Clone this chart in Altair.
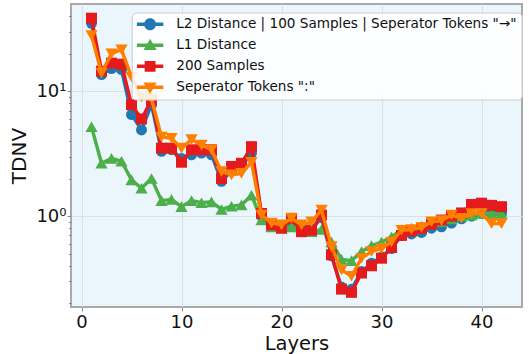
import altair as alt
import pandas as pd

layers = list(range(1, 43))

series_names = [
    'L2 Distance | 100 Samples | Seperator Tokens "→"',
    "L1 Distance",
    "200 Samples",
    'Seperator Tokens ":"',
]
colors = ["#1f77b4", "#4daf4a", "#e41a1c", "#ff7f00"]
shapes = ["circle", "triangle-up", "square", "triangle-down"]
sizes = [120, 150, 120, 150]

l2 = [35, 13.6, 15.2, 14.9, 6.5, 4.9, 7.8, 3.3, 3.4, 2.9,
      3.1, 3.2, 3.1, 1.9, 2.3, 2.5, 3.2, 1.0, 0.86, 0.82,
      0.90, 0.80, 0.78, 0.97, 0.48, 0.27, 0.26, 0.36, 0.42, 0.47,
      0.55, 0.70, 0.72, 0.74, 0.80, 0.82, 0.88, 0.95, 1.00, 1.05,
      1.05, 1.05]
l1 = [5.2, 2.65, 2.9, 2.75, 1.95, 1.67, 2.0, 1.33, 1.36, 1.19,
      1.33, 1.28, 1.30, 1.13, 1.20, 1.23, 1.47, 0.93, 0.82, 0.80,
      0.82, 0.80, 0.75, 0.78, 0.62, 0.45, 0.44, 0.52, 0.58, 0.62,
      0.68, 0.78, 0.80, 0.83, 0.86, 0.90, 0.95, 1.00, 1.02, 1.05,
      1.05, 1.05]
s200 = [38.5, 14.5, 16.8, 16.5, 7.8, 6.0, 8.5, 3.5, 3.5, 2.7,
        3.4, 3.4, 3.4, 2.0, 2.5, 2.65, 3.6, 1.05, 0.85, 0.80,
        0.96, 0.75, 0.77, 1.02, 0.49, 0.26, 0.245, 0.35, 0.40, 0.46,
        0.56, 0.70, 0.76, 0.80, 0.86, 0.93, 1.00, 1.06, 1.24, 1.27,
        1.22, 1.19]
sep = [28, 14.0, 20.0, 21.5, 13.0, 9.0, 8.7, 4.3, 4.2, 3.5,
       4.1, 3.7, 3.4, 2.27, 2.14, 2.2, 2.7, 1.02, 0.88, 0.85,
       0.96, 0.85, 0.90, 1.12, 0.57, 0.37, 0.33, 0.46, 0.52, 0.55,
       0.62, 0.77, 0.78, 0.81, 0.90, 0.92, 1.02, 0.96, 1.05, 1.05,
       0.87, 0.87]

x_ticks = [0, 10, 20, 30, 40]
y_major = [1, 10]
y_minor = [0.2, 0.3, 0.4, 0.5, 0.6, 0.7, 0.8, 0.9,
           2, 3, 4, 5, 6, 7, 8, 9, 20, 30, 40]

rows = []
for name, vals in zip(series_names, [l2, l1, s200, sep]):
    for lay, v in zip(layers, vals):
        rows.append({"layer": lay, "value": v, "series": name})
df = pd.DataFrame(rows)

# legend symbol paths (line + marker), unit = sqrt(symbolSize)/2
ln = "M-1.1,-0.28H3.3V0.28H-1.1Z"
p_circle = ln + "M0.1,0A1,1 0 1,1 2.1,0A1,1 0 1,1 0.1,0Z"
p_tri_up = ln + "M1.1,-1.1L2.2,0.8L0,0.8Z"
p_square = ln + "M0.2,-0.9H2V0.9H0.2Z"
p_tri_down = ln + "M0,-0.8H2.2L1.1,1.1Z"

shape_expr = (
    f"datum.value === 'L1 Distance' ? '{p_tri_up}' : "
    f"(datum.value === '200 Samples' ? '{p_square}' : "
    f"(indexof(datum.value, 'L2') === 0 ? '{p_circle}' : '{p_tri_down}'))"
)

legend = alt.Legend(
    title=None,
    orient="none",
    legendX=60.7,
    legendY=8.5,
    padding=5,
    rowPadding=6,
    symbolSize=144,
    symbolStrokeWidth=0,
    symbolType={"expr": shape_expr},
    labelOffset=26,
    labelFont="DejaVu Sans",
    labelFontSize=13.6,
    labelColor="#111111",
    labelLimit=600,
    fillColor="rgba(255,255,255,0.85)",
    strokeColor="#cccccc",
    cornerRadius=4,
)

major_test = "datum.value === 1 || datum.value === 10"

x_axis = alt.Axis(
    values=x_ticks,
    title="Layers",
    grid=True,
    gridColor="#d8e0e7",
    gridWidth=1,
    domain=False,
    tickSize=4,
    tickColor="#888888",
    labelFontSize=18,
    labelColor="#111111",
    labelPadding=2,
    titleFontSize=19.5,
    titleFontWeight="normal",
    titleColor="#111111",
    titleY=42.5,
    titleBaseline="alphabetic",
)

y_axis = alt.Axis(
    values=y_major + y_minor,
    labelExpr="datum.value === 1 ? '10⁰' : (datum.value === 10 ? '10¹' : '')",
    labelOverlap=False,
    title="TDNV",
    grid=True,
    gridColor="#d8e0e7",
    gridWidth=1,
    gridOpacity={"condition": {"test": major_test, "value": 1}, "value": 0},
    tickSize={"condition": {"test": major_test, "value": 4}, "value": 2.5},
    tickColor="#888888",
    domain=False,
    labelFontSize=18,
    labelColor="#111111",
    labelPadding=1,
    titleFontSize=20,
    titleFontWeight="normal",
    titleColor="#111111",
    titleX=-46,
    titleY=151.5,
    titleBaseline="alphabetic",
)

x_enc = alt.X("layer:Q", scale=alt.Scale(domain=[-1.05, 44.05], nice=False, zero=False), axis=x_axis)
y_enc = alt.Y("value:Q", scale=alt.Scale(type="log", domain=[0.187, 50], nice=False), axis=y_axis)
color_enc = alt.Color("series:N", scale=alt.Scale(domain=series_names, range=colors), legend=legend)

charts = []
for name, shp, sz, col in zip(series_names, shapes, sizes, colors):
    sub = df[df.series == name]
    base = alt.Chart(sub).encode(x=x_enc, y=y_enc)
    charts.append(base.mark_line(strokeWidth=3.4, color=col))
    charts.append(base.mark_point(shape=shp, filled=True, size=sz, opacity=1).encode(color=color_enc))

chart = (
    alt.layer(*charts)
    .properties(
        width=451,
        height=303,
        autosize=alt.AutoSizeParams(type="none"),
        padding={"left": 71, "top": 4, "right": 7, "bottom": 47},
        background="white",
    )
    .configure(font="DejaVu Sans")
    .configure_view(fill="#ebf5fc", stroke="#a9a9a9", strokeWidth=2)
)

chart.save("out.html", embed_options={"renderer": "svg", "actions": False})
